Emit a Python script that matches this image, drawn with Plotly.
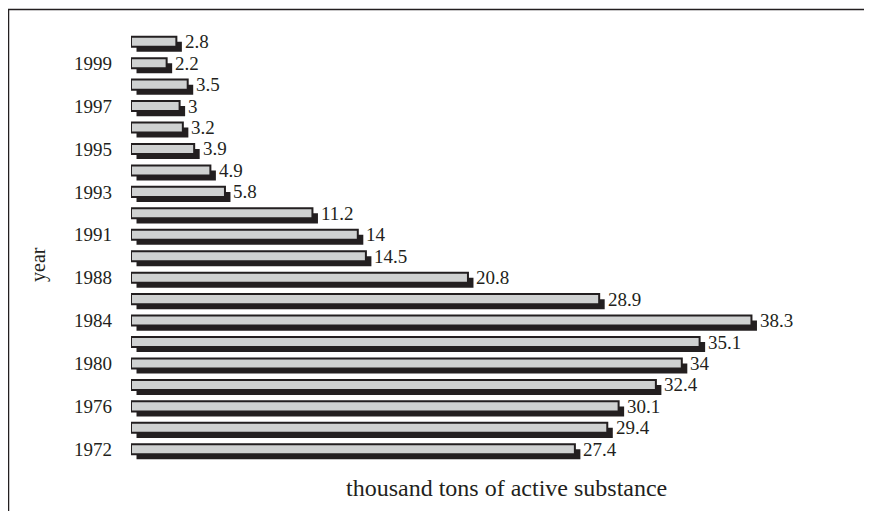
import plotly.graph_objects as go

# data, bottom to top
years = ["1972", "1974", "1976", "1978", "1980", "1982", "1984", "1986", "1988", "1990",
         "1991", "1992", "1993", "1994", "1995", "1996", "1997", "1998", "1999", "2000"]
tons = [27.4, 29.4, 30.1, 32.4, 34, 35.1, 38.3, 28.9, 20.8, 14.5,
        14, 11.2, 5.8, 4.9, 3.9, 3.2, 3, 3.5, 2.2, 2.8]
tick_years = ["1972", "1976", "1980", "1984", "1988", "1991", "1993", "1995", "1997", "1999"]

SERIF = "Liberation Serif, Times New Roman, serif"
INK = "#231f20"
shift = 0.34  # shadow offset in x units

# page has an 8px body margin, so the figure is laid out relative to that
W, H = 856, 503
L, T = 123, 23
plot_w, plot_h = W - L, 429
B = H - T - plot_h


def px(x):
    return (x - 8 - L) / plot_w


def py(y):
    return (T + plot_h - (y - 8)) / plot_h


fig = go.Figure()

# dark drop shadow
fig.add_trace(go.Bar(
    y=years, x=tons, base=shift, orientation="h",
    width=0.47, offset=-0.47,
    marker=dict(color=INK, line=dict(width=0)),
    hoverinfo="skip",
))
# light bar on top
fig.add_trace(go.Bar(
    y=years, x=tons, orientation="h",
    width=0.47, offset=-0.235,
    marker=dict(color="#cfd1d1", line=dict(color=INK, width=2)),
))

for i, v in enumerate(tons):
    fig.add_annotation(
        x=v + shift, y=i, text=f"{v:g}", showarrow=False,
        xanchor="left", yanchor="middle", xshift=1,
        font=dict(family=SERIF, size=19, color=INK),
    )

fig.add_annotation(
    x=px(506), y=py(488), xref="paper", yref="paper", text="thousand tons of active substance",
    showarrow=False, xanchor="center", yanchor="middle",
    font=dict(family=SERIF, size=24, color=INK),
)
fig.add_annotation(
    x=px(38), y=py(265), xref="paper", yref="paper", text="year", textangle=-90,
    showarrow=False, xanchor="center", yanchor="middle",
    font=dict(family=SERIF, size=20, color=INK),
)

# outer frame (only top and left edges fall inside the picture)
fig.add_shape(
    type="rect", xref="paper", yref="paper",
    x0=px(8.5), x1=1.3, y0=-0.5, y1=py(9.5),
    line=dict(color=INK, width=1.5),
)

fig.update_layout(
    width=W, height=H,
    margin=dict(l=L, r=0, t=T, b=B),
    barmode="overlay",
    showlegend=False,
    plot_bgcolor="white", paper_bgcolor="white",
    font=dict(family=SERIF, size=19, color=INK),
    xaxis=dict(range=[0, plot_w / 16.2], visible=False, fixedrange=True),
    yaxis=dict(
        type="category", categoryorder="array", categoryarray=years,
        range=[-0.5, 19.5], tickvals=tick_years, ticktext=tick_years,
        showgrid=False, zeroline=False, showline=False, ticks="",
        ticklabelstandoff=18, tickfont=dict(family=SERIF, size=19),
    ),
)

fig.write_html("out.html")
